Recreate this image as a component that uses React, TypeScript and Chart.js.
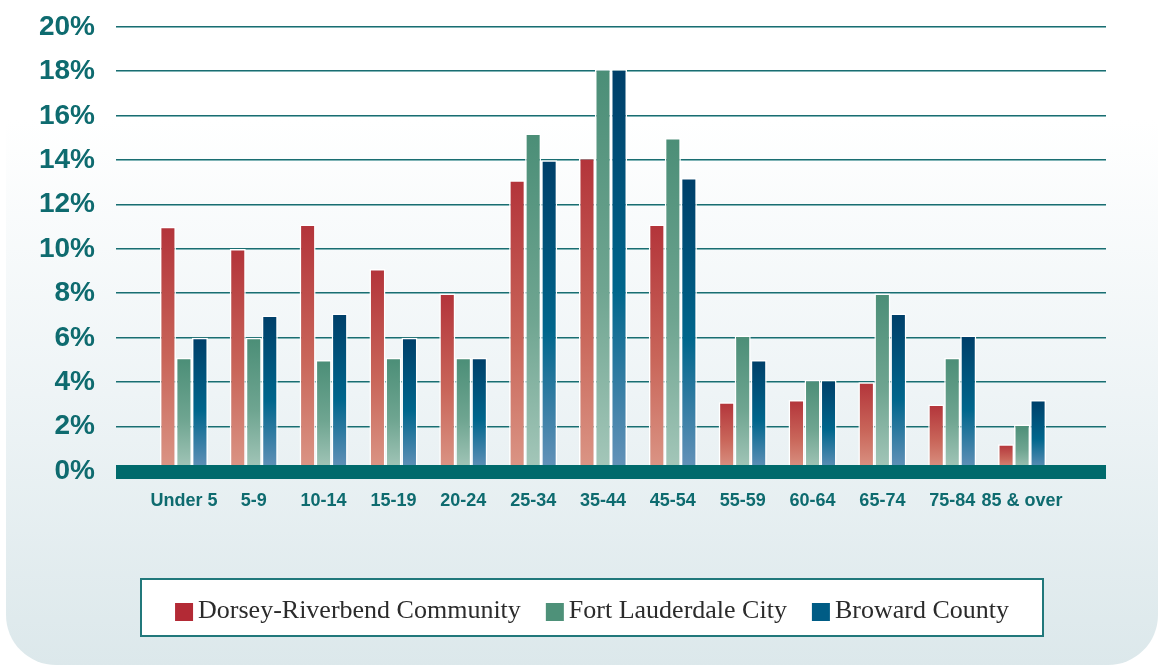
import React, { useEffect, useRef } from "react";
import { Chart, registerables } from "chart.js";

Chart.register(...registerables);

// ---------- data ----------
const categories = [
  "Under 5", "5-9", "10-14", "15-19", "20-24", "25-34", "35-44",
  "45-54", "55-59", "60-64", "65-74", "75-84", "85 & over",
];
const dorseyRiverbend = [11.0, 10.0, 11.1, 9.1, 8.0, 13.1, 14.1, 11.1, 3.1, 3.2, 4.0, 3.0, 1.2];
const fortLauderdale = [5.1, 6.0, 5.0, 5.1, 5.1, 15.2, 18.1, 15.0, 6.1, 4.1, 8.0, 5.1, 2.1];
const browardCounty = [6.0, 7.0, 7.1, 6.0, 5.1, 14.0, 18.1, 13.2, 5.0, 4.1, 7.1, 6.1, 3.2];
const seriesNames = ["Dorsey-Riverbend Community", "Fort Lauderdale City", "Broward County"];
const yMin = 0;
const yMax = 20;
const yStep = 2;

// ---------- styles ----------
const TEAL = "#0e6b6f";
const gradientStops: string[][] = [
  ["#b3343a", "#c9665a", "#db9686"],
  ["#4b8e77", "#6fa591", "#a5c7ba"],
  ["#003f69", "#00668c", "#6693ba"],
];
const legendColors = ["#b32a35", "#4e9179", "#005c85"];

function barGradient(seriesIndex: number) {
  return (ctx: any) => {
    const chart = ctx.chart;
    const stops = gradientStops[seriesIndex];
    if (!chart.chartArea || ctx.type !== "data") return stops[0];
    const y = chart.scales.y;
    const v = ctx.raw as number;
    const top = y.getPixelForValue(v);
    const bottom = y.getPixelForValue(0);
    if (!isFinite(top) || !isFinite(bottom) || bottom - top < 1) return stops[0];
    const g = chart.ctx.createLinearGradient(0, top, 0, bottom);
    g.addColorStop(0, stops[0]);
    g.addColorStop(0.55, stops[1]);
    g.addColorStop(1, stops[2]);
    return g;
  };
}

const GRID_LEFT = 116;
const GRID_RIGHT = 1106;

const backgroundPlugin = {
  id: "panelBackground",
  beforeDraw(chart: any) {
    const { ctx, width, height } = chart;
    ctx.save();
    ctx.fillStyle = "#ffffff";
    ctx.fillRect(0, 0, width, height);
    const x = 6, y = -60, w = 1152, h = 725, r = 50;
    const g = ctx.createLinearGradient(0, 120, 0, 666);
    g.addColorStop(0, "#ffffff");
    g.addColorStop(0.5, "#eef4f6");
    g.addColorStop(1, "#dce8eb");
    ctx.fillStyle = g;
    ctx.beginPath();
    ctx.moveTo(x + r, y);
    ctx.lineTo(x + w - r, y);
    ctx.arcTo(x + w, y, x + w, y + r, r);
    ctx.lineTo(x + w, y + h - r);
    ctx.arcTo(x + w, y + h, x + w - r, y + h, r);
    ctx.lineTo(x + r, y + h);
    ctx.arcTo(x, y + h, x, y + h - r, r);
    ctx.lineTo(x, y + r);
    ctx.arcTo(x, y, x + r, y, r);
    ctx.closePath();
    ctx.fill();
    ctx.restore();
  },
};

const gridPlugin = {
  id: "customGrid",
  beforeDatasetsDraw(chart: any) {
    const { ctx } = chart;
    const y = chart.scales.y;
    ctx.save();
    y.ticks.forEach((t: any) => {
      if (t.value === 0) return;
      const py = Math.round(y.getPixelForValue(t.value));
      ctx.fillStyle = "#1a6d71";
      ctx.fillRect(GRID_LEFT, py - 1, GRID_RIGHT - GRID_LEFT, 1);
      ctx.fillStyle = "#80b4b6";
      ctx.fillRect(GRID_LEFT, py, GRID_RIGHT - GRID_LEFT, 1);
    });
    ctx.restore();
  },
  afterDatasetsDraw(chart: any) {
    const { ctx } = chart;
    const y = chart.scales.y;
    const p0 = y.getPixelForValue(0);
    ctx.save();
    ctx.fillStyle = "#006a6c";
    ctx.fillRect(GRID_LEFT, Math.round(p0) - 6, GRID_RIGHT - GRID_LEFT, 14);
    ctx.restore();
  },
};

const legendPlugin = {
  id: "boxLegend",
  afterDraw(chart: any) {
    const { ctx } = chart;
    const boxX = 140, boxY = 578, boxW = 904, boxH = 59;
    ctx.save();
    ctx.fillStyle = "#ffffff";
    ctx.fillRect(boxX, boxY, boxW, boxH);
    ctx.strokeStyle = "#21787b";
    ctx.lineWidth = 2;
    ctx.strokeRect(boxX + 1, boxY + 1, boxW - 2, boxH - 2);

    ctx.font = '26px "Liberation Serif", "Times New Roman", serif';
    const sq = 18, gapText = 5, gapItem = 25;
    const labels: string[] = chart.data.datasets.map((d: any) => d.label);
    const widths = labels.map((l) => ctx.measureText(l).width);
    const total = widths.reduce((a, b) => a + b, 0) + labels.length * (sq + gapText) + (labels.length - 1) * gapItem;
    let x = boxX + boxW / 2 - total / 2;
    const baseline = 618;
    labels.forEach((l, i) => {
      ctx.fillStyle = legendColors[i];
      ctx.fillRect(x, 603, sq, sq);
      x += sq + gapText;
      ctx.fillStyle = "#2b2b2b";
      ctx.textBaseline = "alphabetic";
      ctx.textAlign = "left";
      ctx.fillText(l, x, baseline);
      x += widths[i] + gapItem;
    });
    ctx.restore();
  },
};

export default function App() {
  const canvasRef = useRef<HTMLCanvasElement | null>(null);

  useEffect(() => {
    if (!canvasRef.current) return;
    const seriesData = [dorseyRiverbend, fortLauderdale, browardCounty];
    const chart = new Chart(canvasRef.current, {
      type: "bar",
      data: {
        labels: categories,
        datasets: seriesData.map((d, i) => ({
          label: seriesNames[i],
          data: d,
          backgroundColor: barGradient(i),
          borderColor: "#ffffff",
          borderWidth: 1.5,
          categoryPercentage: 0.6875,
          barPercentage: 1.0,
        })),
      },
      options: {
        responsive: false,
        animation: false,
        layout: { padding: { left: 0, right: 103, top: 27, bottom: 0 } },
        plugins: {
          legend: { display: false },
          tooltip: { enabled: false },
        },
        scales: {
          x: {
            grid: { display: false, drawTicks: false },
            border: { display: false },
            ticks: {
              color: TEAL,
              padding: 19,
              maxRotation: 0,
              autoSkip: false,
              font: { family: '"Liberation Sans", Arial, sans-serif', size: 18, weight: "bold" },
            },
            afterFit: (scale: any) => {
              scale.height = 195;
            },
          },
          y: {
            min: yMin,
            max: yMax,
            grid: {
              display: true,
              drawOnChartArea: false,
              drawTicks: true,
              tickLength: 54,
              tickColor: "rgba(0,0,0,0)",
              color: "rgba(0,0,0,0)",
            },
            border: { display: false },
            ticks: {
              stepSize: yStep,
              color: TEAL,
              padding: 0,
              font: { family: '"Liberation Sans", Arial, sans-serif', size: 28, weight: "bold" },
              callback: (v: any) => `${v}%`,
            },
            afterFit: (scale: any) => {
              scale.width = 149;
            },
          },
        },
      },
      plugins: [backgroundPlugin, gridPlugin, legendPlugin],
    });
    return () => chart.destroy();
  }, []);

  return (
    <div style={{ position: "fixed", left: 0, top: 0, width: 1160, height: 666, background: "#fff" }}>
      <canvas ref={canvasRef} width={1160} height={666} style={{ display: "block" }} />
    </div>
  );
}
